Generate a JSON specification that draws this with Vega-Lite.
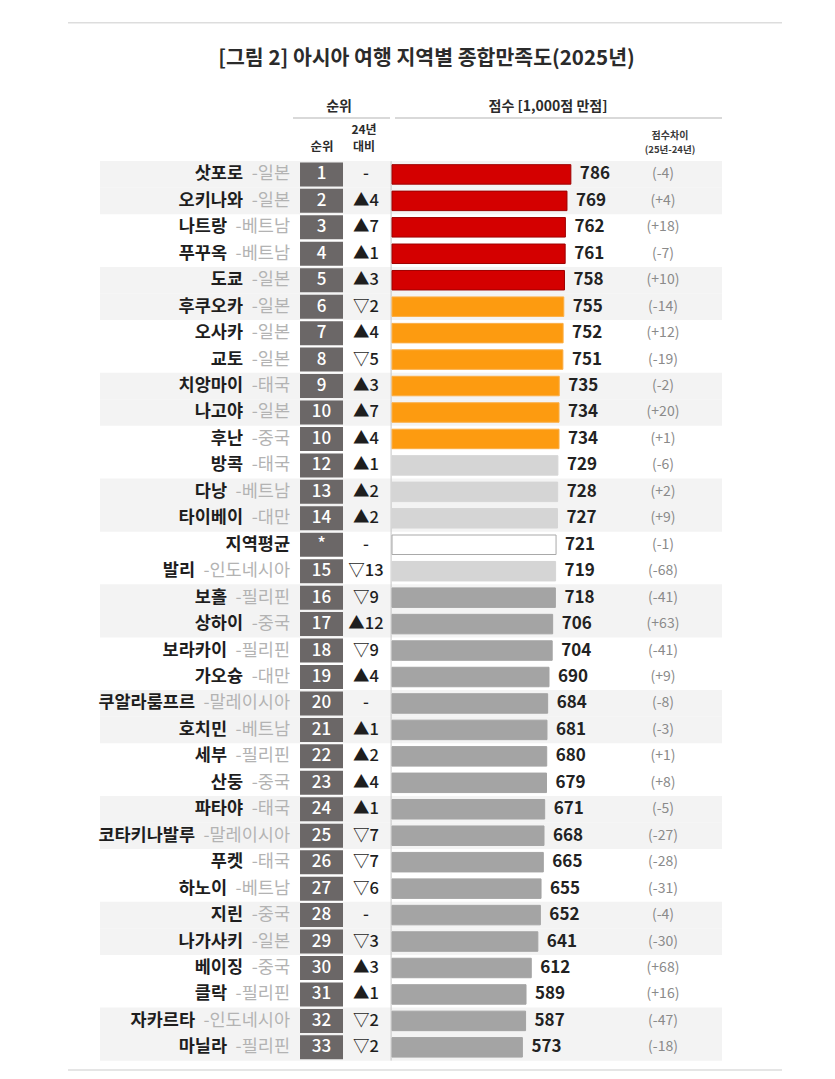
{
  "$schema": "https://vega.github.io/schema/vega-lite/v6.json",
  "width": 835,
  "height": 1079,
  "padding": 0,
  "autosize": {"type": "none"},
  "background": "#ffffff",
  "config": {"font": "Noto Sans CJK KR", "view": {"stroke": null}},
  "data": {
    "values": [
      {"order": 1, "city": "삿포로", "country": "-일본", "rank": "1", "change": "-", "score": 786, "diff": "(-4)", "group": "top5"},
      {"order": 2, "city": "오키나와", "country": "-일본", "rank": "2", "change": "▲4", "score": 769, "diff": "(+4)", "group": "top5"},
      {"order": 3, "city": "나트랑", "country": "-베트남", "rank": "3", "change": "▲7", "score": 762, "diff": "(+18)", "group": "top5"},
      {"order": 4, "city": "푸꾸옥", "country": "-베트남", "rank": "4", "change": "▲1", "score": 761, "diff": "(-7)", "group": "top5"},
      {"order": 5, "city": "도쿄", "country": "-일본", "rank": "5", "change": "▲3", "score": 758, "diff": "(+10)", "group": "top5"},
      {"order": 6, "city": "후쿠오카", "country": "-일본", "rank": "6", "change": "▽2", "score": 755, "diff": "(-14)", "group": "top10"},
      {"order": 7, "city": "오사카", "country": "-일본", "rank": "7", "change": "▲4", "score": 752, "diff": "(+12)", "group": "top10"},
      {"order": 8, "city": "교토", "country": "-일본", "rank": "8", "change": "▽5", "score": 751, "diff": "(-19)", "group": "top10"},
      {"order": 9, "city": "치앙마이", "country": "-태국", "rank": "9", "change": "▲3", "score": 735, "diff": "(-2)", "group": "top10"},
      {"order": 10, "city": "나고야", "country": "-일본", "rank": "10", "change": "▲7", "score": 734, "diff": "(+20)", "group": "top10"},
      {"order": 11, "city": "후난", "country": "-중국", "rank": "10", "change": "▲4", "score": 734, "diff": "(+1)", "group": "top10"},
      {"order": 12, "city": "방콕", "country": "-태국", "rank": "12", "change": "▲1", "score": 729, "diff": "(-6)", "group": "above"},
      {"order": 13, "city": "다낭", "country": "-베트남", "rank": "13", "change": "▲2", "score": 728, "diff": "(+2)", "group": "above"},
      {"order": 14, "city": "타이베이", "country": "-대만", "rank": "14", "change": "▲2", "score": 727, "diff": "(+9)", "group": "above"},
      {"order": 15, "city": "지역평균", "country": "", "rank": "*", "change": "-", "score": 721, "diff": "(-1)", "group": "average"},
      {"order": 16, "city": "발리", "country": "-인도네시아", "rank": "15", "change": "▽13", "score": 719, "diff": "(-68)", "group": "above"},
      {"order": 17, "city": "보홀", "country": "-필리핀", "rank": "16", "change": "▽9", "score": 718, "diff": "(-41)", "group": "below"},
      {"order": 18, "city": "상하이", "country": "-중국", "rank": "17", "change": "▲12", "score": 706, "diff": "(+63)", "group": "below"},
      {"order": 19, "city": "보라카이", "country": "-필리핀", "rank": "18", "change": "▽9", "score": 704, "diff": "(-41)", "group": "below"},
      {"order": 20, "city": "가오슝", "country": "-대만", "rank": "19", "change": "▲4", "score": 690, "diff": "(+9)", "group": "below"},
      {"order": 21, "city": "쿠알라룸프르", "country": "-말레이시아", "rank": "20", "change": "-", "score": 684, "diff": "(-8)", "group": "below"},
      {"order": 22, "city": "호치민", "country": "-베트남", "rank": "21", "change": "▲1", "score": 681, "diff": "(-3)", "group": "below"},
      {"order": 23, "city": "세부", "country": "-필리핀", "rank": "22", "change": "▲2", "score": 680, "diff": "(+1)", "group": "below"},
      {"order": 24, "city": "산둥", "country": "-중국", "rank": "23", "change": "▲4", "score": 679, "diff": "(+8)", "group": "below"},
      {"order": 25, "city": "파타야", "country": "-태국", "rank": "24", "change": "▲1", "score": 671, "diff": "(-5)", "group": "below"},
      {"order": 26, "city": "코타키나발루", "country": "-말레이시아", "rank": "25", "change": "▽7", "score": 668, "diff": "(-27)", "group": "below"},
      {"order": 27, "city": "푸켓", "country": "-태국", "rank": "26", "change": "▽7", "score": 665, "diff": "(-28)", "group": "below"},
      {"order": 28, "city": "하노이", "country": "-베트남", "rank": "27", "change": "▽6", "score": 655, "diff": "(-31)", "group": "below"},
      {"order": 29, "city": "지린", "country": "-중국", "rank": "28", "change": "-", "score": 652, "diff": "(-4)", "group": "below"},
      {"order": 30, "city": "나가사키", "country": "-일본", "rank": "29", "change": "▽3", "score": 641, "diff": "(-30)", "group": "below"},
      {"order": 31, "city": "베이징", "country": "-중국", "rank": "30", "change": "▲3", "score": 612, "diff": "(+68)", "group": "below"},
      {"order": 32, "city": "클락", "country": "-필리핀", "rank": "31", "change": "▲1", "score": 589, "diff": "(+16)", "group": "below"},
      {"order": 33, "city": "자카르타", "country": "-인도네시아", "rank": "32", "change": "▽2", "score": 587, "diff": "(-47)", "group": "below"},
      {"order": 34, "city": "마닐라", "country": "-필리핀", "rank": "33", "change": "▽2", "score": 573, "diff": "(-18)", "group": "below"}
    ]
  },
  "layer": [
    {
      "transform": [{"filter": "(datum.order - 1) % 4 < 2"}],
      "mark": {"type": "bar", "orient": "horizontal", "size": 26.7, "color": "#f3f3f3"},
      "encoding": {
        "x": {"datum": -1283.5, "type": "quantitative", "scale": {"domain": [-1723, 1947], "nice": false, "zero": false}, "axis": null},
        "x2": {"datum": 1450.3},
        "y": {"field": "order", "type": "quantitative", "scale": {"domain": [-5.4045, 35.0075], "nice": false, "zero": false, "reverse": true}, "axis": null}
      }
    },
    {
      "data": {"values": [{}]},
      "mark": {"type": "rule", "color": "#c4c4c4", "strokeWidth": 1},
      "encoding": {
        "x": {"datum": -4},
        "y": {"datum": 0.5},
        "y2": {"datum": 34.5}
      }
    },
    {
      "mark": {"type": "bar", "orient": "horizontal", "size": 19.5, "strokeWidth": 1},
      "encoding": {
        "x": {"field": "score", "type": "quantitative"},
        "y": {"field": "order", "type": "quantitative"},
        "color": {"field": "group", "type": "nominal", "legend": null,
          "scale": {"domain": ["top5", "top10", "above", "average", "below"], "range": ["#d40000", "#fd9b10", "#d5d5d5", "#ffffff", "#a4a4a4"]}},
        "stroke": {"field": "group", "type": "nominal", "legend": null,
          "scale": {"domain": ["top5", "top10", "above", "average", "below"], "range": ["#9e0000", "#fbae45", "#d5d5d5", "#a9a9a9", "#a4a4a4"]}}
      }
    },
    {
      "mark": {"type": "bar", "orient": "horizontal", "size": 24, "color": "#6b6767"},
      "encoding": {
        "x": {"datum": -404.4},
        "x2": {"datum": -215.4},
        "y": {"field": "order", "type": "quantitative"}
      }
    },
    {
      "mark": {"type": "text", "align": "center", "baseline": "middle", "fontSize": 17, "fontWeight": 500, "color": "#ffffff"},
      "encoding": {
        "x": {"datum": -309.9},
        "y": {"field": "order", "type": "quantitative"},
        "text": {"field": "rank"}
      }
    },
    {
      "mark": {"type": "text", "align": "center", "baseline": "middle", "fontSize": 16.5, "fontWeight": 500, "color": "#1e1e1e"},
      "encoding": {
        "x": {"datum": -114.4},
        "y": {"field": "order", "type": "quantitative"},
        "text": {"field": "change"}
      }
    },
    {
      "mark": {"type": "text", "align": "left", "baseline": "middle", "dx": 9, "fontSize": 17, "fontWeight": "bold", "color": "#222222"},
      "encoding": {
        "x": {"field": "score", "type": "quantitative"},
        "y": {"field": "order", "type": "quantitative"},
        "text": {"field": "score"}
      }
    },
    {
      "mark": {"type": "text", "align": "center", "baseline": "middle", "fontSize": 14, "color": "#8a8a8a"},
      "encoding": {
        "x": {"datum": 1191},
        "y": {"field": "order", "type": "quantitative"},
        "text": {"field": "diff"}
      }
    },
    {
      "transform": [{"filter": "length(datum.country) > 0"}],
      "mark": {"type": "text", "align": "right", "baseline": "middle", "fontSize": 17.5, "color": "#b3b3b3"},
      "encoding": {
        "x": {"datum": -448.4},
        "y": {"field": "order", "type": "quantitative"},
        "text": {"field": "country"}
      }
    },
    {
      "transform": [{"filter": "length(datum.country) == 3"}],
      "mark": {"type": "text", "align": "right", "baseline": "middle", "dx": -47, "fontSize": 17.5, "fontWeight": "bold", "color": "#1e1e1e"},
      "encoding": {
        "x": {"datum": -448.4},
        "y": {"field": "order", "type": "quantitative"},
        "text": {"field": "city"}
      }
    },
    {
      "transform": [{"filter": "length(datum.country) == 4"}],
      "mark": {"type": "text", "align": "right", "baseline": "middle", "dx": -63, "fontSize": 17.5, "fontWeight": "bold", "color": "#1e1e1e"},
      "encoding": {
        "x": {"datum": -448.4},
        "y": {"field": "order", "type": "quantitative"},
        "text": {"field": "city"}
      }
    },
    {
      "transform": [{"filter": "length(datum.country) == 6"}],
      "mark": {"type": "text", "align": "right", "baseline": "middle", "dx": -95, "fontSize": 17.5, "fontWeight": "bold", "color": "#1e1e1e"},
      "encoding": {
        "x": {"datum": -448.4},
        "y": {"field": "order", "type": "quantitative"},
        "text": {"field": "city"}
      }
    },
    {
      "transform": [{"filter": "length(datum.country) == 0"}],
      "mark": {"type": "text", "align": "right", "baseline": "middle", "fontSize": 17.5, "fontWeight": "bold", "color": "#1e1e1e"},
      "encoding": {
        "x": {"datum": -448.4},
        "y": {"field": "order", "type": "quantitative"},
        "text": {"field": "city"}
      }
    },
    {
      "data": {"values": [{}]},
      "mark": {"type": "text", "text": "[그림 2] 아시아 여행 지역별  종합만족도(2025년)", "align": "center", "baseline": "middle", "fontSize": 20.5, "fontWeight": "bold", "color": "#2b2b2b"},
      "encoding": {"x": {"datum": 151.6}, "y": {"datum": -3.382}}
    },
    {
      "data": {"values": [{}]},
      "mark": {"type": "rule", "color": "#dddddd", "strokeWidth": 1.5},
      "encoding": {"x": {"datum": -1424.1}, "x2": {"datum": 1714.1}, "y": {"datum": -4.7303}}
    },
    {
      "data": {"values": [{}]},
      "mark": {"type": "rule", "color": "#dddddd", "strokeWidth": 1.5},
      "encoding": {"x": {"datum": -1424.1}, "x2": {"datum": 1714.1}, "y": {"datum": 34.858}}
    },
    {
      "data": {"values": [{}]},
      "mark": {"type": "text", "text": "순위", "align": "center", "baseline": "middle", "fontSize": 14, "fontWeight": "bold", "color": "#2b2b2b"},
      "encoding": {"x": {"datum": -233.0}, "y": {"datum": -1.5468}}
    },
    {
      "data": {"values": [{}]},
      "mark": {"type": "text", "text": "점수 [1,000점 만점]", "align": "center", "baseline": "middle", "fontSize": 14, "fontWeight": "bold", "color": "#2b2b2b"},
      "encoding": {"x": {"datum": 685.6}, "y": {"datum": -1.5468}}
    },
    {
      "data": {"values": [{}]},
      "mark": {"type": "rule", "color": "#cccccc", "strokeWidth": 1.5},
      "encoding": {"x": {"datum": -435.2}, "x2": {"datum": -8.9}, "y": {"datum": -1.1348}}
    },
    {
      "data": {"values": [{}]},
      "mark": {"type": "rule", "color": "#cccccc", "strokeWidth": 1.5},
      "encoding": {"x": {"datum": 13.1}, "x2": {"datum": 1450.3}, "y": {"datum": -1.1348}}
    },
    {
      "data": {"values": [{}]},
      "mark": {"type": "text", "text": "순위", "align": "center", "baseline": "middle", "fontSize": 12.5, "fontWeight": "bold", "color": "#2b2b2b"},
      "encoding": {"x": {"datum": -307.7}, "y": {"datum": -0.0487}}
    },
    {
      "data": {"values": [{}]},
      "mark": {"type": "text", "text": "24년", "align": "center", "baseline": "middle", "fontSize": 12, "fontWeight": "bold", "color": "#2b2b2b"},
      "encoding": {"x": {"datum": -123.1}, "y": {"datum": -0.685}}
    },
    {
      "data": {"values": [{}]},
      "mark": {"type": "text", "text": "대비", "align": "center", "baseline": "middle", "fontSize": 12, "fontWeight": "bold", "color": "#2b2b2b"},
      "encoding": {"x": {"datum": -123.1}, "y": {"datum": -0.0487}}
    },
    {
      "data": {"values": [{}]},
      "mark": {"type": "text", "text": "점수차이", "align": "center", "baseline": "middle", "fontSize": 10, "fontWeight": "bold", "color": "#3a3a3a"},
      "encoding": {"x": {"datum": 1221.8}, "y": {"datum": -0.4607}}
    },
    {
      "data": {"values": [{}]},
      "mark": {"type": "text", "text": "(25년-24년)", "align": "center", "baseline": "middle", "fontSize": 9.5, "fontWeight": "bold", "color": "#3a3a3a"},
      "encoding": {"x": {"datum": 1221.8}, "y": {"datum": 0.0637}}
    }
  ]
}
